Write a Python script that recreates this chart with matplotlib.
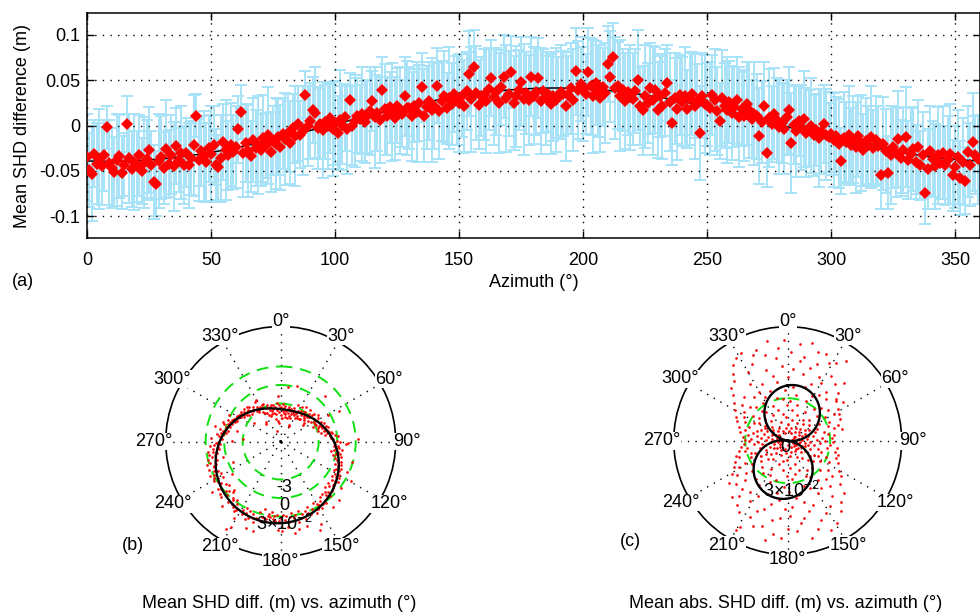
import numpy as np
import matplotlib
matplotlib.use('Agg')
import matplotlib.pyplot as plt

plt.rcParams['font.family'] = ['Liberation Sans', 'DejaVu Sans']
plt.rcParams['mathtext.fontset'] = 'custom'
plt.rcParams['mathtext.rm'] = 'Liberation Sans'
plt.rcParams['mathtext.it'] = 'Liberation Sans:italic'
plt.rcParams['mathtext.bf'] = 'Liberation Sans:bold'
plt.rcParams['font.size'] = 13

# ---------------- data (mm) ----------------
azimuth_deg = np.arange(360)

shd_diff_mm = [
    -35, -49, -53, -31, -42, -37, -45, -33, -2, -41,
    -47, -51, -38, -34, -52, -43, 2, -36, -48, -40,
    -45, -33, -50, -41, -37, -27, -44, -62, -64, -39,
    -35, -47, -26, -42, -32, -45, -23, -38, -30, -44,
    -30, -44, -36, -22, 11, -38, -28, -34, -40, -25,
    -31, -22, -44, -46, -36, -18, -27, -33, -21, -29,
    -24, -4, 15, -30, -19, -28, -34, -16, -25, -21,
    -27, -14, -22, -11, -29, -17, -20, -13, -24, -9,
    -15, -8, -19, -3, -12, 2, -10, -6, 34, -1,
    5, 17, 14, -3, 2, -5, 4, -1, 8, -4,
    3, -8, 6, 1, 9, -4, 28, 0, 5, 11,
    7, 13, 4, 10, 16, 27, 9, 14, 6, 39,
    18, 11, 20, 15, 8, 22, 17, 13, 32, 19,
    19, 10, 22, 15, 25, 42, 11, 20, 27, 17,
    22, 44, 16, 27, 32, 19, 30, 24, 35, 28,
    25, 33, 21, 38, 57, 29, 65, 36, 23, 32,
    34, 27, 40, 52, 31, 37, 25, 42, 54, 30,
    35, 59, 25, 32, 39, 48, 29, 36, 28, 54,
    33, 37, 52, 27, 38, 30, 35, 24, 32, 28,
    31, 37, 35, 21, 34, 41, 28, 60, 39, 46,
    40, 35, 59, 43, 32, 47, 38, 30, 42, 36,
    68, 54, 75, 41, 44, 33, 39, 27, 37, 31,
    29, 38, 50, 21, 17, 32, 25, 41, 28, 39,
    17, 32, 21, 36, 47, 26, 3, 30, 18, 34,
    26, 32, 18, 29, 35, 21, 27, -8, 33, 24,
    23, 19, 34, 28, 16, 5, 30, 22, 17, 26,
    14, 20, 28, 9, 18, 11, 24, 17, 7, 13,
    10, -12, 4, 21, -30, 8, 2, 13, 6, -2,
    3, -4, 9, 17, -19, 1, -6, 5, -2, 7,
    -8, -3, 0, -11, -5, -14, -7, 2, -10, -13,
    -9, -16, -12, -20, -39, -14, -18, -11, -22, -15,
    -24, -12, -19, -27, -17, -21, -13, -25, -16, -23,
    -55, -20, -28, -52, -33, -24, -30, -15, -36, -27,
    -13, -38, -31, -26, -40, -24, -44, -33, -74, -48,
    -28, -37, -45, -33, -41, -30, -44, -38, -31, -55,
    -46, -35, -58, -40, -61, -29, -43, -18, -33, -37,
]

shd_err_mm = [
    48, 41, 52, 37, 45, 55, 43, 39, 24, 47,
    44, 38, 51, 46, 40, 35, 31, 49, 42, 53,
    39, 45, 36, 50, 43, 47, 38, 41, 36, 52,
    46, 40, 54, 37, 44, 49, 42, 35, 51, 43,
    38, 47, 41, 56, 24, 45, 39, 50, 43, 37,
    52, 44, 40, 36, 48, 42, 55, 38, 46, 41,
    45, 37, 30, 49, 43, 51, 39, 46, 42, 54,
    40, 48, 36, 53, 44, 38, 50, 42, 47, 39,
    51, 43, 46, 38, 55, 41, 37, 49, 26, 44,
    42, 36, 50, 45, 39, 53, 41, 47, 38, 52,
    46, 40, 55, 43, 37, 49, 30, 44, 51, 41,
    38, 52, 45, 40, 48, 33, 56, 42, 47, 36,
    50, 43, 39, 54, 46, 41, 48, 37, 44, 52,
    45, 49, 40, 55, 42, 38, 51, 46, 43, 57,
    48, 41, 53, 44, 50, 39, 56, 45, 42, 49,
    54, 46, 51, 43, 47, 58, 40, 52, 49, 44,
    50, 57, 45, 42, 53, 48, 55, 41, 46, 59,
    47, 40, 52, 56, 44, 49, 61, 45, 50, 43,
    53, 48, 44, 58, 46, 51, 42, 55, 49, 57,
    45, 52, 47, 60, 43, 50, 56, 48, 54, 41,
    57, 44, 49, 53, 62, 46, 51, 59, 43, 55,
    42, 50, 38, 56, 48, 61, 45, 53, 47, 58,
    51, 46, 55, 43, 49, 57, 44, 50, 60, 47,
    53, 45, 58, 48, 42, 54, 47, 50, 56, 44,
    49, 55, 43, 51, 46, 58, 41, 52, 47, 54,
    46, 51, 44, 56, 49, 42, 53, 47, 58, 45,
    52, 44, 48, 55, 41, 50, 46, 53, 43, 57,
    47, 53, 45, 49, 38, 54, 42, 50, 46, 52,
    44, 50, 41, 48, 55, 43, 51, 39, 47, 53,
    49, 42, 52, 45, 40, 54, 47, 43, 50, 38,
    46, 52, 43, 49, 36, 51, 44, 55, 41, 48,
    50, 45, 53, 40, 47, 43, 56, 42, 49, 44,
    37, 51, 46, 40, 54, 45, 49, 53, 42, 47,
    55, 43, 50, 46, 41, 52, 38, 48, 35, 44,
    49, 42, 47, 53, 40, 51, 44, 48, 55, 39,
    45, 52, 41, 48, 37, 50, 46, 54, 43, 49,
]

shd_absdiff_mm = [
    45, 12, 63, 28, 51, 7, 38, 69, 22, 57,
    33, 60, 15, 48, 71, 26, 9, 54, 40, 66,
    19, 58, 43, 6, 67, 31, 50, 14, 62, 36,
    47, 24, 65, 11, 55, 39, 70, 18, 44, 29,
    52, 16, 40, 8, 57, 33, 21, 49, 12, 45,
    27, 44, 10, 36, 19, 48, 5, 31, 42, 14,
    38, 9, 25, 41, 17, 32, 6, 40, 22, 13,
    30, 11, 37, 20, 4, 34, 15, 26, 39, 8,
    18, 29, 7, 33, 14, 24, 3, 31, 21, 10,
    26, 5, 32, 16, 23, 9, 30, 12, 35, 19,
    8, 28, 15, 34, 6, 22, 37, 13, 25, 11,
    36, 17, 4, 29, 39, 10, 24, 33, 7, 21,
    14, 42, 27, 9, 45, 19, 35, 6, 40, 23,
    48, 12, 31, 54, 20, 38, 8, 44, 26, 57,
    16, 50, 35, 62, 9, 41, 25, 55, 30, 68,
    43, 13, 58, 28, 70, 37, 5, 61, 22, 49,
    34, 66, 17, 52, 8, 45, 71, 24, 56, 39,
    11, 59, 41, 27, 64, 19, 47, 3, 53, 36,
    62, 25, 48, 14, 69, 33, 55, 9, 42, 67,
    21, 57, 38, 72, 15, 46, 29, 63, 6, 51,
    40, 18, 65, 32, 54, 11, 60, 27, 44, 70,
    73, 23, 50, 37, 61, 8, 45, 29, 58, 17,
    35, 52, 12, 47, 26, 56, 19, 41, 7, 33,
    48, 15, 37, 24, 51, 9, 43, 30, 18, 46,
    22, 39, 11, 34, 42, 6, 28, 17, 40, 25,
    13, 36, 27, 4, 38, 20, 31, 10, 35, 16,
    29, 7, 33, 18, 24, 12, 31, 5, 21, 27,
    9, 30, 15, 26, 3, 32, 19, 11, 28, 22,
    34, 14, 25, 8, 31, 17, 36, 23, 6, 29,
    12, 38, 20, 33, 16, 40, 9, 27, 35, 18,
    43, 24, 7, 37, 19, 46, 30, 13, 41, 26,
    50, 15, 36, 55, 22, 44, 10, 33, 57, 28,
    18, 61, 39, 25, 66, 11, 48, 32, 69, 40,
    56, 21, 70, 35, 8, 60, 44, 27, 65, 14,
    37, 68, 23, 52, 6, 63, 31, 47, 72, 19,
    42, 9, 59, 30, 66, 17, 53, 36, 71, 25,
]

x_ticks = [0, 50, 100, 150, 200, 250, 300, 350]
y_ticks = [-0.1, -0.05, 0, 0.05, 0.1]
y_tick_labels = ['-0.1', '-0.05', '0', '0.05', '0.1']
angle_ticks = list(range(0, 360, 30))
angle_labels = [f'{a}\u00b0' for a in angle_ticks]
rings_b = [-0.03, 0.0, 0.03]
ring_labels_b = ['-3', '0', '3\u00d710$^{-2}$']
rings_c = [0.03]
ring_labels_c = ['3\u00d710$^{-2}$']

# ---------------- conversions & harmonic fit ----------------
az = np.asarray(azimuth_deg, dtype=float)
diff = np.asarray(shd_diff_mm, dtype=float) / 1000.0
err = np.asarray(shd_err_mm, dtype=float) / 1000.0
absdiff = np.asarray(shd_absdiff_mm, dtype=float) / 1000.0

rad = np.deg2rad(az)
G = np.column_stack([np.ones_like(rad), np.cos(rad), np.sin(rad)])
coef, *_ = np.linalg.lstsq(G, diff, rcond=None)
fit_az = np.linspace(0, 360, 721)
fit_rad = np.deg2rad(fit_az)
fit_val = coef[0] + coef[1] * np.cos(fit_rad) + coef[2] * np.sin(fit_rad)

W, H = 980, 614
fig = plt.figure(figsize=(W / 100, H / 100), dpi=100)

# ---------------- (a) cartesian panel ----------------
ax = fig.add_axes([87 / W, 1 - 238 / H, (980 - 87) / W, 225 / H])
ax.errorbar(az, diff, yerr=err, fmt='none', ecolor='#a8e3f7',
            elinewidth=1.4, capsize=4.5, capthick=1.4, zorder=1)
ax.plot(fit_az, fit_val, color='k', lw=1.1, zorder=2)
ax.plot(az, diff, 'D', color='red', ms=6, mew=0, zorder=3)
ax.set_xlim(0, 360)
ax.set_ylim(-0.124, 0.124)
ax.set_xticks(x_ticks)
ax.set_yticks(y_ticks)
ax.set_yticklabels(y_tick_labels)
ax.set_axisbelow(False)
ax.grid(True, color='k', linestyle=(0, (1, 4.5)), linewidth=1.0)
ax.tick_params(direction='in', top=True, right=True, length=5, width=1)
ax.tick_params(axis='x', pad=10)
ax.tick_params(axis='y', pad=5)
for s in ax.spines.values():
    s.set_linewidth(1.1)
ax.set_xlabel('Azimuth (\u00b0)', labelpad=4)
ax.set_ylabel('Mean SHD difference (m)', labelpad=6)
fig.text(12 / W, 1 - 281 / H, '(a)', ha='left', va='center')


def polar_panel(cx, cy, R, rmin, rmax, values, curve, rings, ring_labels, panel, title):
    pax = fig.add_axes([(cx - R) / W, (H - cy - R) / H, 2 * R / W, 2 * R / H],
                       projection='polar')
    pax.set_theta_zero_location('N')
    pax.set_theta_direction(-1)
    pax.set_rlim(rmin, rmax)
    pax.set_thetagrids(angle_ticks, labels=[''] * len(angle_ticks))
    pax.set_rgrids(rings, labels=[''] * len(rings))
    pax.grid(axis='x', color='k', linestyle=(0, (1, 4.5)), linewidth=1.0)
    pax.grid(axis='y', color='#10e010', linestyle=(0, (6, 4)), linewidth=1.4)
    pax.spines['polar'].set_color('k')
    pax.spines['polar'].set_linewidth(1.2)
    pax.plot(rad, values, 'o', color='red', ms=1.9, mew=0, zorder=3)
    pax.plot(fit_rad, curve, color='k', lw=1.7, zorder=4)
    span = rmax - rmin
    for a, lab in zip(angle_ticks, angle_labels):
        t = np.deg2rad(a)
        fac = 1.045 + 0.055 * np.sin(t) ** 2
        pax.text(t, rmin + fac * span, lab, ha='center', va='center',
                 zorder=6, clip_on=False,
                 bbox=dict(facecolor='white', edgecolor='none', pad=0.3))
    for r, lab in zip(rings, ring_labels):
        pax.annotate(lab, xy=(np.pi, r), xytext=(2.5, -5.5), textcoords='offset points',
                     ha='center', va='center', zorder=7)
    fig.text(panel[0] / W, 1 - panel[1] / H, panel[2], ha='left', va='center')
    fig.text(title[0] / W, 1 - title[1] / H, title[2], ha='center', va='center')
    return pax


axb = polar_panel(280.7, 441.5, 115, -0.0916, 0.0948, diff, fit_val,
                  rings_b, ring_labels_b, (122, 545, '(b)'),
                  (279, 603, 'Mean SHD diff. (m) vs. azimuth (\u00b0)'))

axc = polar_panel(787.7, 440.7, 114, 0.0, 0.0805, absdiff, np.abs(fit_val),
                  rings_c, ring_labels_c, (620, 542, '(c)'),
                  (786, 603, 'Mean abs. SHD diff. (m) vs. azimuth (\u00b0)'))
axc.annotate('0', xy=(0, 0.0), xytext=(-1.5, -5), textcoords='offset points',
             ha='center', va='center', zorder=7)

fig.savefig('out.png', dpi=100)
